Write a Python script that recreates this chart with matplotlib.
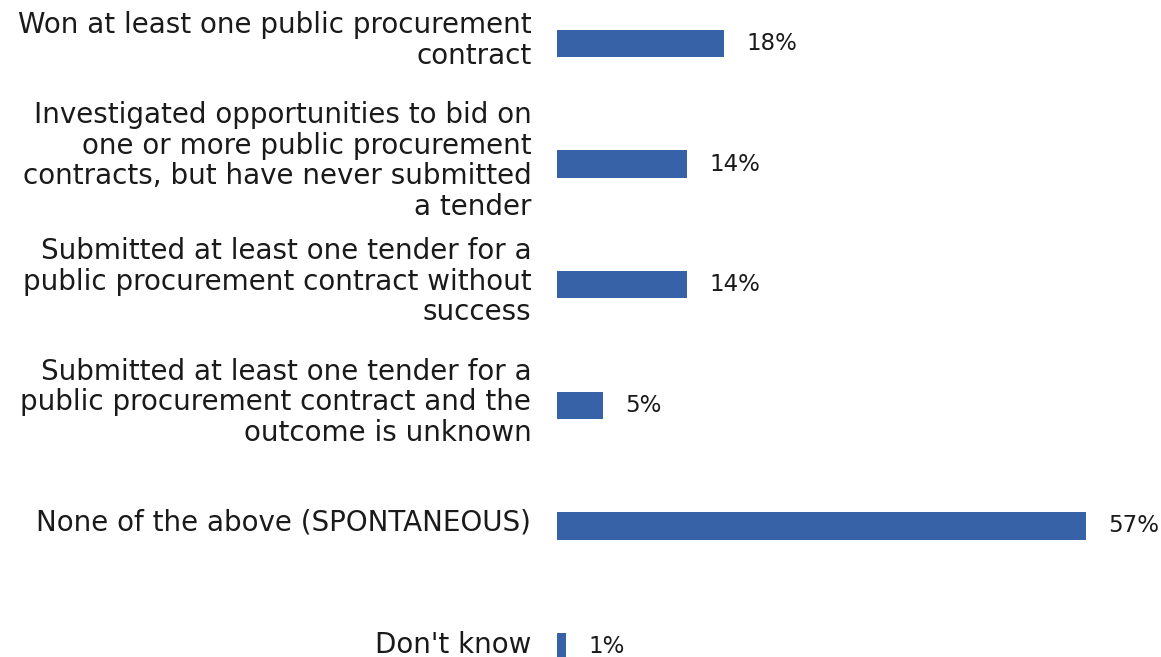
import matplotlib
matplotlib.use("Agg")
import matplotlib.pyplot as plt
import matplotlib.transforms as mtransforms

categories = [
    "Won at least one public procurement\ncontract",
    "Investigated opportunities to bid on\none or more public procurement\ncontracts, but have never submitted\na tender",
    "Submitted at least one tender for a\npublic procurement contract without\nsuccess",
    "Submitted at least one tender for a\npublic procurement contract and the\noutcome is unknown",
    "None of the above (SPONTANEOUS)",
    "Don't know",
]
values = [18, 14, 14, 5, 57, 1]
value_labels = ["18%", "14%", "14%", "5%", "57%", "1%"]

plt.rcParams['font.family'] = ['DejaVu Sans']

W, H = 1161, 657
fig = plt.figure(figsize=(W / 100, H / 100), dpi=100)
ax_left = 557
px_per_unit = 9.28
ax = fig.add_axes([ax_left / W, 0, (W - ax_left) / W, 1])

pos = list(range(len(values)))
ax.barh(pos, values, height=0.228, color="#3862A8")
ax.set_xlim(0, (W - ax_left) / px_per_unit)
row = 120.6
ax.set_ylim((H - 43.5) / row, -43.5 / row)

ax.set_yticks(pos)
ax.set_yticklabels(categories, fontsize=20, color="#1a1a1a", ha="right",
                   va="center", linespacing=1.12)
ax.tick_params(axis="y", length=0, pad=18.5)
ax.set_xticks([])
for s in ax.spines.values():
    s.set_visible(False)

# labels sit a few pixels above the bar centre, as in the reference
labels = ax.get_yticklabels()
for i, t in enumerate(labels):
    dy = 3 if i < len(labels) - 1 else 1.5
    t.set_transform(t.get_transform() +
                    mtransforms.ScaledTranslation(0, dy / 100, fig.dpi_scale_trans))

for p, v, lab in zip(pos, values, value_labels):
    ax.annotate(lab, (v, p), xytext=(16, 0), textcoords="offset points",
                va="center", ha="left", fontsize=16.5, color="#1a1a1a")

fig.savefig("out.png", dpi=100)
